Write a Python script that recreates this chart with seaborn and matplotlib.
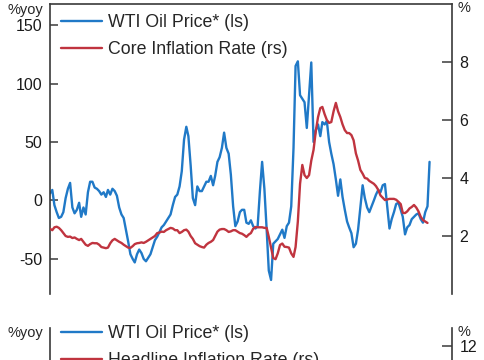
import pandas as pd
import matplotlib
matplotlib.use('Agg')
import matplotlib.pyplot as plt
import seaborn as sns
from matplotlib.lines import Line2D

# monthly observations, Jan 2012 onward
months = pd.date_range('2012-01-01', periods=171, freq='MS')

# WTI oil price, % yoy (left scale)
wti_yoy = [
    6, 9, -4, -10, -15, -14, -10, 2, 10, 15,
    -6, -11, -8, -2, -14, -6, -12, 7, 16, 16,
    11, 10, 8, 5, 7, 3, 9, 5, 10, 8,
    4, -6, -12, -15, -25, -35, -46, -50, -53, -46,
    -42, -45, -50, -52, -49, -46, -40, -34, -31, -27,
    -23, -21, -18, -15, -12, -4, 3, 5, 12, 25,
    52, 63, 55, 30, 2, -4, 12, 8, 8, 12,
    16, 16, 21, 13, 21, 33, 37, 45, 58, 45,
    40, 22, -5, -22, -18, -10, -8, -8, -19, -20,
    -17, -22, -24, -22, 8, 33, 10, -25, -60, -68,
    -37, -35, -33, -29, -25, -32, -22, -19, -5, 45,
    115, 119, 90, 87, 84, 62, 90, 118, 50, 60,
    65, 55, 67, 65, 68, 50, 40, 31, 18, 4,
    18, 3, -8, -18, -23, -28, -40, -37, -25, -6,
    13, 2, -6, -10, -5, 0, 5, 9, 7, 13,
    14, -5, -24, -16, -10, -3, -2, -8, -14, -29,
    -23, -21, -16, -14, -12, -11, -16, -19, -10, -5,
    33,
]

# core inflation rate, % (right scale) - one month shorter
core_infl = [
    2.25, 2.2, 2.3, 2.32, 2.28, 2.2, 2.1, 2.0, 1.97, 1.98,
    1.93, 1.95, 1.9, 1.86, 1.9, 1.8, 1.7, 1.66, 1.72, 1.76,
    1.75, 1.75, 1.7, 1.62, 1.6, 1.58, 1.6, 1.75, 1.85, 1.9,
    1.85, 1.8, 1.76, 1.7, 1.65, 1.6, 1.59, 1.65, 1.72, 1.75,
    1.76, 1.78, 1.76, 1.8, 1.85, 1.9, 1.95, 2.0, 2.1, 2.12,
    2.15, 2.14, 2.2, 2.24, 2.28, 2.26, 2.2, 2.2, 2.1, 2.14,
    2.2, 2.22, 2.15, 2.0, 1.9, 1.75, 1.7, 1.65, 1.62, 1.6,
    1.7, 1.76, 1.8, 1.86, 2.0, 2.15, 2.22, 2.24, 2.24, 2.2,
    2.14, 2.16, 2.2, 2.2, 2.15, 2.1, 2.08, 2.03, 1.97, 2.05,
    2.1, 2.25, 2.31, 2.3, 2.3, 2.3, 2.28, 2.28, 1.97, 1.6,
    1.24, 1.2, 1.4, 1.69, 1.74, 1.63, 1.62, 1.6, 1.4, 1.28,
    1.62, 2.5, 3.8, 4.45, 4.1, 4.0, 4.1, 4.6, 4.97, 5.6,
    6.1, 6.41, 6.45, 6.2, 6.0, 5.9, 5.93, 6.3, 6.59, 6.3,
    6.1, 5.85, 5.65, 5.55, 5.55, 5.48, 5.3, 4.85, 4.6, 4.28,
    4.15, 4.0, 3.98, 3.9, 3.85, 3.8, 3.72, 3.59, 3.4, 3.32,
    3.24, 3.26, 3.28, 3.28, 3.28, 3.25, 3.18, 3.1, 2.8, 2.79,
    2.85, 2.95, 3.0, 3.07, 2.98, 2.85, 2.66, 2.55, 2.5, 2.45,
]

left_ticks = [-50, 0, 50, 100, 150]
right_ticks = [2, 4, 6, 8]
bottom_right_ticks = [12]   # the only tick left inside the picture

BLUE = '#2079c7'
RED = '#c0343f'
INK = '#3a3a3a'

sns.set_style('white')
plt.rcParams['font.family'] = ['Liberation Sans', 'DejaVu Sans']
plt.rcParams['axes.unicode_minus'] = False

W, H = 485, 360
fig = plt.figure(figsize=(W / 100, H / 100), dpi=100)
x_end = pd.Timestamp('2027-01-01')


def panel(top_px, top_line):
    """Axes pair placed by pixel coordinates of the reference"""
    ax = fig.add_axes([50 / W, (H - top_px - 290) / H, 402 / W, 290 / H])
    ax2 = ax.twinx()
    for a in (ax, ax2):
        for side in ('left', 'right', 'top', 'bottom'):
            a.spines[side].set_visible(False)
        a.set_xticks([])
    ax.spines['left'].set_visible(True)
    ax2.spines['right'].set_visible(True)
    if top_line:
        ax2.spines['top'].set_visible(True)
    for a in (ax, ax2):
        for s in a.spines.values():
            s.set_color(INK)
            s.set_linewidth(1.2)
    ax.tick_params(axis='y', direction='in', length=6, width=1.1, color=INK,
                   pad=5.5, labelsize=11.5, labelcolor='#1a1a1a',
                   left=True, right=False)
    ax2.tick_params(axis='y', direction='in', length=7, width=1.1, color=INK,
                    pad=5.5, labelsize=11.5, labelcolor='#1a1a1a',
                    right=True, left=False)
    return ax, ax2


def finish(a, ylim, ticks):
    a.set_ylim(*ylim)
    a.set_yticks(ticks)
    a.set_xlim(months[0], x_end)
    a.set_xticks([])
    a.set_xlabel('')
    a.set_ylabel('')


handles = [Line2D([], [], color=BLUE, lw=1.7), Line2D([], [], color=RED, lw=1.7)]
leg_kw = dict(loc='upper left', frameon=False, fontsize=12.8, handlelength=2.3,
              handletextpad=0.35, labelspacing=0.55, borderpad=0, borderaxespad=0)

# top panel: WTI vs core inflation
ax, ax2 = panel(4, True)
sns.lineplot(x=months, y=wti_yoy, ax=ax, color=BLUE, linewidth=1.7, legend=False)
sns.lineplot(x=months[:len(core_infl)], y=core_infl, ax=ax2, color=RED,
             linewidth=1.7, legend=False)
finish(ax, (-80, 168), left_ticks)
finish(ax2, (0, 10), right_ticks)
ax2.legend(handles, ['WTI Oil Price* (ls)', 'Core Inflation Rate (rs)'],
           bbox_to_anchor=(0.027, 0.965), **leg_kw)

fig.text(43 / W, 1 - 10 / H, '%yoy', ha='right', va='center', fontsize=10.5)
fig.text(458 / W, 1 - 8 / H, '%', ha='left', va='center', fontsize=10.5)

# bottom panel (cut off by the figure edge): WTI vs headline inflation
bx, bx2 = panel(328, False)
sns.lineplot(x=months, y=wti_yoy, ax=bx, color=BLUE, linewidth=1.7, legend=False)
finish(bx, (-100, 180), [])
finish(bx2, (-2, 12.9), bottom_right_ticks)
bx2.legend(handles, ['WTI Oil Price* (ls)', 'Headline Inflation Rate (rs)'],
           bbox_to_anchor=(0.027, 1.010), **leg_kw)

fig.text(43 / W, 1 - 333 / H, '%yoy', ha='right', va='center', fontsize=10.5)
fig.text(458 / W, 1 - 332 / H, '%', ha='left', va='center', fontsize=10.5)

fig.savefig('out.png', dpi=100)
plt.close(fig)
